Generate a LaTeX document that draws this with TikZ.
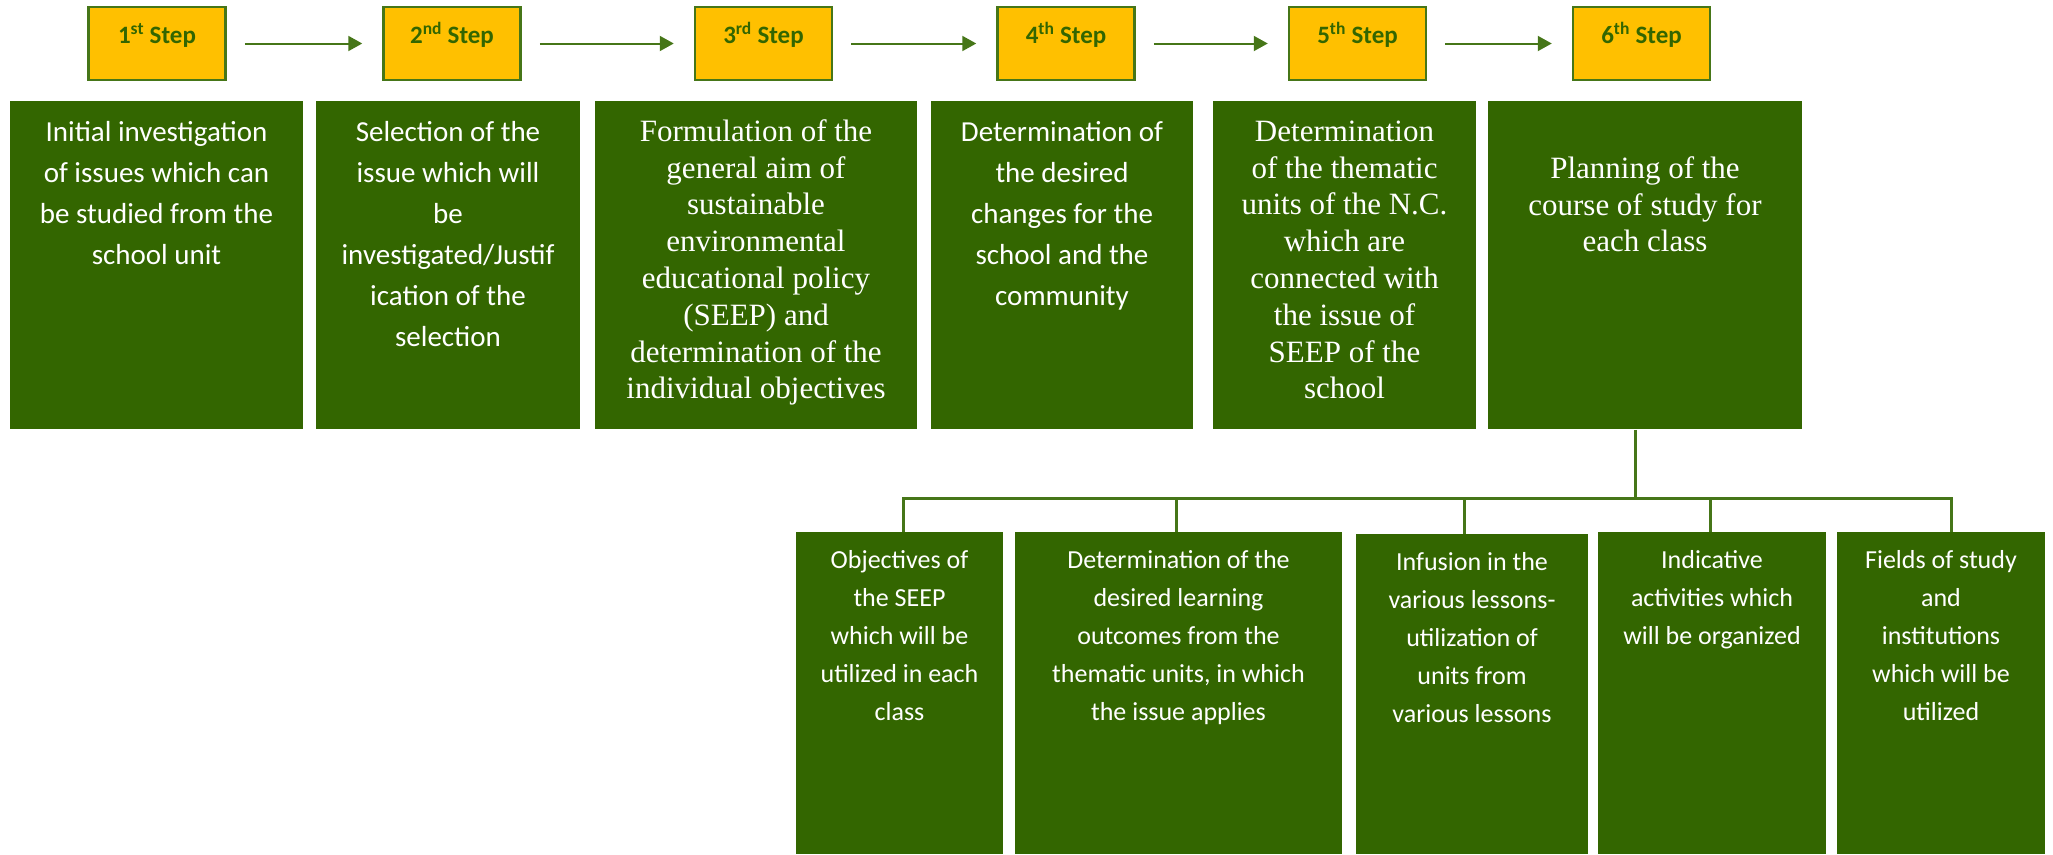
\documentclass[tikz,border=0pt]{standalone}
\usepackage{fontspec}
\newfontfamily\carlito{Carlito}
\newfontfamily\timesrm{Liberation Serif}
\usetikzlibrary{arrows.meta}

\definecolor{boxgreen}{RGB}{51,102,0}
\definecolor{stepgold}{RGB}{255,192,0}
\definecolor{stepline}{RGB}{70,118,24}

\tikzset{every picture/.style={line width=0.75pt}}
\tikzset{
  stepbox/.style={draw=stepline, fill=stepgold, line width=2.5pt, minimum width=137pt, minimum height=73pt, inner sep=0pt, text=boxgreen, font=\carlito\bfseries\fontsize{25}{30}\selectfont, text height=13pt, text depth=13pt},
  greenbox/.style={fill=boxgreen, inner sep=0pt, anchor=north west},
  boxtext/.style={text=white, align=center, inner sep=0pt, anchor=north},
  calibritop/.style={font=\carlito\fontsize{29}{41}\selectfont},
  timestop/.style={font=\timesrm\fontsize{31}{36.8}\selectfont},
  calibrilow/.style={font=\carlito\fontsize{26}{38}\selectfont},
  flowarrow/.style={draw=stepline, line width=2pt, -{Triangle[length=14pt,width=15pt]}, shorten <=18pt, shorten >=20pt},
  tree/.style={draw=stepline, line width=3pt}
}

\begin{document}
\begin{tikzpicture}[x=1pt,y=1pt,yscale=-1,xscale=1]
\useasboundingbox (0,0) rectangle (2053,854);

% Step Nodes
\node[stepbox] (s1) at (157,43.5) {1\textsuperscript{st} Step};
\node[stepbox] (s2) at (452,43.5) {2\textsuperscript{nd} Step};
\node[stepbox] (s3) at (763.5,43.5) {3\textsuperscript{rd} Step};
\node[stepbox] (s4) at (1066,43.5) {4\textsuperscript{th} Step};
\node[stepbox] (s5) at (1357.5,43.5) {5\textsuperscript{th} Step};
\node[stepbox] (s6) at (1641.5,43.5) {6\textsuperscript{th} Step};

%Straight Lines
\foreach \a/\b in {s1/s2, s2/s3, s3/s4, s4/s5, s5/s6}
  \draw[flowarrow] (\a.east) -- (\b.west);

% Shape: Rectangles of the steps
\node[greenbox, minimum width=293pt, minimum height=328pt] (b1) at (10,101) {};
\node[greenbox, minimum width=264pt, minimum height=328pt] (b2) at (316,101) {};
\node[greenbox, minimum width=322pt, minimum height=328pt] (b3) at (595,101) {};
\node[greenbox, minimum width=262pt, minimum height=328pt] (b4) at (931,101) {};
\node[greenbox, minimum width=263pt, minimum height=328pt] (b5) at (1213,101) {};
\node[greenbox, minimum width=314pt, minimum height=328pt] (b6) at (1488,101) {};

% Text Node
\node[boxtext, calibritop] (t1) at (156.5,112.3) {\strut Initial investigation\\of issues which can\\be studied from the\\school unit};
% Text Node
\node[boxtext, calibritop] (t2) at (448,112.3) {\strut Selection of the\\issue which will\\be\\investigated/Justif\\ication of the\\selection};
% Text Node
\node[boxtext, timestop] (t3) at (756,115.2) {\strut Formulation of the\\general aim of\\sustainable\\environmental\\educational policy\\(SEEP) and\\determination of the\\individual objectives};
% Text Node
\node[boxtext, calibritop] (t4) at (1062,112.3) {\strut Determination of\\the desired\\changes for the\\school and the\\community};
% Text Node
\node[boxtext, timestop] (t5) at (1344.5,115.2) {\strut Determination\\of the thematic\\units of the N.C.\\which are\\connected with\\the issue of\\SEEP of the\\school};
% Text Node
\node[boxtext, timestop] (t6) at (1645,152.2) {\strut Planning of the\\course of study for\\each class};

% Shape: Rectangles of the planning
\node[greenbox, minimum width=207pt, minimum height=322pt] (c1) at (796,532) {};
\node[greenbox, minimum width=327pt, minimum height=322pt] (c2) at (1015,532) {};
\node[greenbox, minimum width=232pt, minimum height=320pt] (c3) at (1356,534) {};
\node[greenbox, minimum width=228pt, minimum height=322pt] (c4) at (1598,532) {};
\node[greenbox, minimum width=208pt, minimum height=322pt] (c5) at (1837,532) {};

% Text Node
\node[boxtext, calibrilow] (u1) at (899.5,541.4) {\strut Objectives of\\the SEEP\\which will be\\utilized in each\\class};
% Text Node
\node[boxtext, calibrilow] (u2) at (1178.5,541.4) {\strut Determination of the\\desired learning\\outcomes from the\\thematic units, in which\\the issue applies};
% Text Node
\node[boxtext, calibrilow] (u3) at (1472,543.4) {\strut Infusion in the\\various lessons-\\utilization of\\units from\\various lessons};
% Text Node
\node[boxtext, calibrilow] (u4) at (1712,541.4) {\strut Indicative\\activities which\\will be organized};
% Text Node
\node[boxtext, calibrilow] (u5) at (1941,541.4) {\strut Fields of study\\and\\institutions\\which will be\\utilized};

%Straight Lines of the tree
\coordinate (bus) at (0,498);
\draw[tree] ([xshift=-10pt]b6.south) -- ([xshift=-10pt]b6.south |- bus);
\draw[tree] ([xshift=4pt]c1.north) |- ([xshift=10pt]c5.north |- bus) -- ([xshift=10pt]c5.north);
\foreach \n/\dx in {c2/-2.5, c3/-8, c4/-2}
  \draw[tree] ([xshift=\dx pt]\n.north) -- ([xshift=\dx pt]\n.north |- bus);

\end{tikzpicture}
\end{document}
